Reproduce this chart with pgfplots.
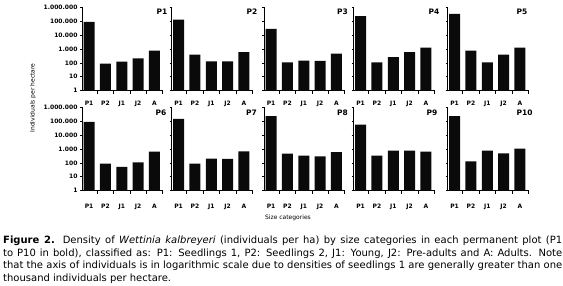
\documentclass[border=0pt]{standalone}
\usepackage{fontspec}
\setmainfont{DejaVu Sans}
\usepackage{pgfplots}
\pgfplotsset{compat=1.18}

\pgfplotsset{
 mypanel/.style={
  scale only axis, width=81pt, height=83.4pt,
  ymin=1, ymax=1e6, xmin=-0.43, xmax=4.52,
  axis x line*=bottom, axis y line*=left,
  axis line style={line width=0.8pt, black},
  ytick={1,10,100,1000,10000,100000,1000000},
  yticklabels={},
  yminorticks=false,
  xtick={0,1,2,3,4}, xticklabels={P1,P2,J1,J2,A},
  minor xtick={0.5,1.5,2.5,3.5,4.5},
  tick align=inside,
  major tick length=2pt, minor tick length=3pt,
  every major x tick/.append style={draw=none},
  every minor x tick/.append style={draw=black, line width=0.6pt},
  every major y tick/.append style={draw=black, line width=0.6pt, xshift=-2pt},
  ybar, bar width=11pt,
  tick label style={font=\fontsize{6}{6}\selectfont\bfseries},
  xticklabel style={yshift=-5pt},
  clip=false,
 },
 firstcol/.style={
  yticklabels={1,10,100,1.000,10.000,100.000,1.000.000},
  yticklabel style={xshift=-1pt},
 },
 rowtwo/.style={xticklabel style={yshift=-3pt}},
}

\begin{document}
\begin{tikzpicture}[x=1pt,y=1pt]
\useasboundingbox (0,0) rectangle (563,286);

% Row 1
\begin{axis}[ymode=log, mypanel, firstcol, at={(82pt,195.3pt)}, anchor=south west]
\addplot[fill=black!96, draw=none] coordinates {(0,90000) (1,90) (2,124) (3,215) (4,770)};
\end{axis}
\begin{axis}[ymode=log, mypanel, at={(171.5pt,195.3pt)}, anchor=south west]
\addplot[fill=black!96, draw=none] coordinates {(0,130000) (1,400) (2,130) (3,130) (4,590)};
\end{axis}
\begin{axis}[ymode=log, mypanel, at={(264pt,195.3pt)}, anchor=south west]
\addplot[fill=black!96, draw=none] coordinates {(0,28000) (1,110) (2,145) (3,140) (4,470)};
\end{axis}
\begin{axis}[ymode=log, mypanel, at={(353.5pt,195.3pt)}, anchor=south west]
\addplot[fill=black!96, draw=none] coordinates {(0,230000) (1,110) (2,255) (3,590) (4,1240)};
\end{axis}
\begin{axis}[ymode=log, mypanel, at={(447.5pt,195.3pt)}, anchor=south west]
\addplot[fill=black!96, draw=none] coordinates {(0,335000) (1,760) (2,110) (3,400) (4,1240)};
\end{axis}

% Row 2
\begin{axis}[ymode=log, mypanel, firstcol, rowtwo, at={(82pt,95.3pt)}, anchor=south west]
\addplot[fill=black!96, draw=none] coordinates {(0,89000) (1,90) (2,52) (3,110) (4,650)};
\end{axis}
\begin{axis}[ymode=log, mypanel, rowtwo, at={(171.5pt,95.3pt)}, anchor=south west]
\addplot[fill=black!96, draw=none] coordinates {(0,145000) (1,90) (2,200) (3,195) (4,680)};
\end{axis}
\begin{axis}[ymode=log, mypanel, rowtwo, at={(264pt,95.3pt)}, anchor=south west]
\addplot[fill=black!96, draw=none] coordinates {(0,230000) (1,470) (2,340) (3,290) (4,590)};
\end{axis}
\begin{axis}[ymode=log, mypanel, rowtwo, at={(353.5pt,95.3pt)}, anchor=south west]
\addplot[fill=black!96, draw=none] coordinates {(0,57000) (1,340) (2,760) (3,760) (4,650)};
\end{axis}
\begin{axis}[ymode=log, mypanel, rowtwo, at={(447.5pt,95.3pt)}, anchor=south west]
\addplot[fill=black!96, draw=none] coordinates {(0,230000) (1,130) (2,760) (3,490) (4,1050)};
\end{axis}

% Panel labels
\begin{scope}[every node/.style={font=\fontsize{7.5}{7.5}\selectfont\bfseries, inner sep=0pt}]
\node at (162,274.5) {P1};
\node at (252,274.5) {P2};
\node at (342.5,274.5) {P3};
\node at (434,274.5) {P4};
\node at (522,274.5) {P5};
\node at (161,173.5) {P6};
\node at (251.5,173.5) {P7};
\node at (342.5,173.5) {P8};
\node at (432,173.5) {P9};
\node at (524.5,173.5) {P10};
\end{scope}

% Axis titles
\node[rotate=90, font=\fontsize{6}{6}\selectfont, inner sep=0pt] at (33,188) {Individuals per hectare};
\node[font=\fontsize{6}{6}\selectfont, inner sep=0pt] at (288,68) {Size categories};

% Caption
\node[anchor=north west, inner sep=0pt] at (3,50.5) {\parbox{559pt}{\hyphenpenalty=10000\fontsize{10}{12.8}\selectfont \textbf{Figure 2.} Density of \textit{Wettinia kalbreyeri} (individuals per ha) by size categories in each permanent plot (P1\linebreak to P10 in bold), classified as: P1: Seedlings 1, P2: Seedlings 2, J1: Young, J2: Pre-adults and A: Adults. Note\linebreak that the axis of individuals is in logarithmic scale due to densities of seedlings 1 are generally greater than one\linebreak thousand individuals per hectare.}};
\end{tikzpicture}
\end{document}
